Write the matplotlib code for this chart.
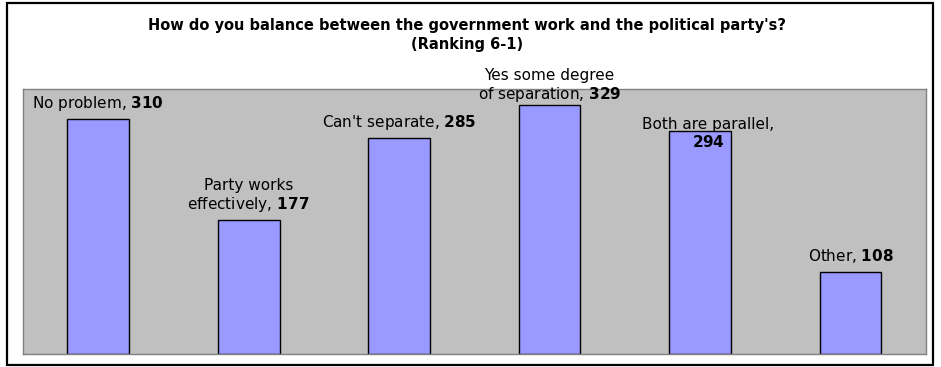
import matplotlib
matplotlib.use("Agg")
import matplotlib.pyplot as plt
from matplotlib.patches import Rectangle

categories = ["No problem", "Party works effectively", "Can't separate",
              "Yes some degree of separation", "Both are parallel", "Other"]
values = [310, 177, 285, 329, 294, 108]
label_text = ["No problem, $\\mathbf{310}$",
              "Party works\neffectively, $\\mathbf{177}$",
              "Can't separate, $\\mathbf{285}$",
              "Yes some degree\nof separation, $\\mathbf{329}$",
              "Both are parallel,\n$\\mathbf{294}$",
              "Other, $\\mathbf{108}$"]
# label offsets in pixels (dx, dy) relative to bar top
label_offsets = [(0, 16), (0, 24), (0, 16), (0, 19), (8, -2), (0, 16)]
title = "How do you balance between the government work and the political party's?\n(Ranking 6-1)"

plt.rcParams['font.family'] = ['DejaVu Sans']
plt.rcParams['mathtext.fontset'] = 'dejavusans'

W, H, DPI = 941, 367, 100
fig = plt.figure(figsize=(W / DPI, H / DPI), dpi=DPI)
fig.patch.set_facecolor('white')

# outer frame
fig.patches.append(Rectangle((7 / W, 1 - 365 / H), (933 - 7) / W, (365 - 3) / H,
                             transform=fig.transFigure, fill=False,
                             edgecolor='black', linewidth=1.6, zorder=0))

ax = fig.add_axes([23 / W, 1 - 354 / H, (925.7 - 23) / W, (354 - 89) / H])
ax.set_facecolor('#C0C0C0')
for s in ax.spines.values():
    s.set_color('#808080')
    s.set_linewidth(1.0)

x = list(range(len(values)))
ax.bar(x, values, width=0.41, color='#9999FF', edgecolor='black', linewidth=1.0)
ax.set_xlim(-0.5, len(values) - 0.5)
ax.set_ylim(0, 350)
ax.set_xticks([])
ax.set_yticks([])

px2pt = 72 / DPI
for i, (v, t, (dx, dy)) in enumerate(zip(values, label_text, label_offsets)):
    ax.annotate(t, xy=(i, v), xytext=(dx * px2pt, dy * px2pt),
                textcoords='offset points', ha='center', va='center',
                multialignment='center', fontsize=11, color='black',
                linespacing=1.15, annotation_clip=False)

fig.text(467 / W, 1 - 35 / H, title, ha='center', va='center',
         fontsize=10.5, fontweight='bold', linespacing=1.35)

fig.savefig("out.png", dpi=DPI)
